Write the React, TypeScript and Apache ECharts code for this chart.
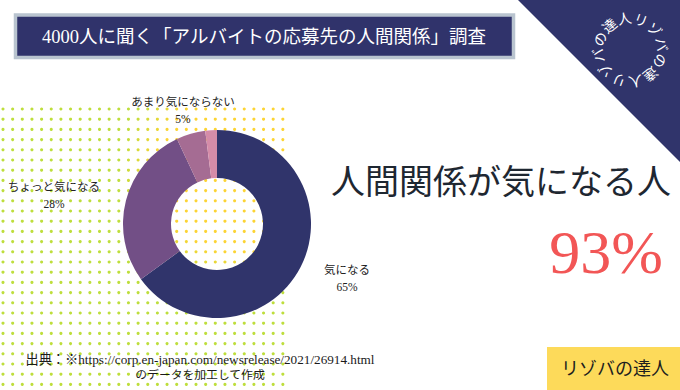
import React, { useEffect, useRef } from "react";
import * as echarts from "echarts";

const categories = ["気になる", "ちょっと気になる", "あまり気にならない", "気にならない"];
const values = [65, 28, 5, 2];
const sliceColors = ["#30346b", "#724f86", "#a56c93", "#d58ca8"];
const showLabel = [true, true, true, false];
const titleText = "4000人に聞く「アルバイトの応募先の人間関係」調査";
const headline = "人間関係が気になる人";
const bigValue = "93%";
const sourceLine1 = "出典：※https://corp.en-japan.com/newsrelease/2021/26914.html";
const sourceLine2 = "のデータを加工して作成";
const brand = "リゾバの達人";

const SERIF = '"Liberation Serif", "DejaVu Serif", "Noto Sans CJK JP", serif';
const labelPos: [number, number][] = [
  [347, 278],
  [54, 195],
  [183, 110],
  [0, 0],
];

function lerpColor(a: number[], b: number[], t: number) {
  const c = a.map((v, i) => Math.round(v + (b[i] - v) * t));
  return `rgb(${c[0]},${c[1]},${c[2]})`;
}

function buildDots() {
  const yellow = [252, 212, 52];
  const green = [190, 222, 60];
  const out: any[] = [];
  for (let y = 109; y <= 392; y += 10.2) {
    for (let x = 3; x <= 286; x += 9.65) {
      const d = Math.hypot(x - 238, y - 172);
      const t = Math.max(0, Math.min(1, (d - 80) / 40));
      out.push({
        type: "circle",
        silent: true,
        z: 0,
        shape: { cx: x, cy: y, r: 1.55 },
        style: { fill: lerpColor(yellow, green, t) },
      });
    }
  }
  return out;
}

function buildRing() {
  const chars = (brand + brand).split("");
  const cx = 630;
  const cy = 50;
  const r = 31;
  return chars.map((ch, i) => {
    const deg = 20 + i * 30;
    const th = ((deg % 360) * Math.PI) / 180;
    return {
      type: "text",
      silent: true,
      z: 5,
      x: cx + r * Math.sin(th),
      y: cy - r * Math.cos(th),
      rotation: -th,
      style: {
        text: ch,
        fill: "#ffffff",
        font: `14px ${SERIF}`,
        textAlign: "center",
        textVerticalAlign: "middle",
      },
    };
  });
}

export default function App() {
  const ref = useRef<HTMLDivElement>(null);
  useEffect(() => {
    if (!ref.current) return;
    const chart = echarts.init(ref.current, null, { renderer: "svg" });
    chart.setOption({
      animation: false,
      backgroundColor: "#ffffff",
      graphic: [
        ...buildDots(),
        {
          type: "polygon",
          silent: true,
          z: 1,
          shape: { points: [[518, 0], [680, 0], [680, 162]] },
          style: { fill: "#30346b" },
        },
        ...buildRing(),
        {
          type: "rect",
          z: 1,
          shape: { x: 15.5, y: 15, width: 498, height: 42.5 },
          style: { fill: "#30336b", stroke: "#b9c4cf", lineWidth: 3.5 },
        },
        {
          type: "text",
          z: 2,
          x: 264,
          y: 37,
          style: {
            text: titleText,
            fill: "#ffffff",
            font: `18.5px ${SERIF}`,
            textAlign: "center",
            textVerticalAlign: "middle",
          },
        },
        {
          type: "text",
          z: 2,
          x: 501,
          y: 182,
          style: {
            text: headline,
            fill: "#1e2731",
            font: `34px ${SERIF}`,
            textAlign: "center",
            textVerticalAlign: "middle",
          },
        },
        {
          type: "text",
          z: 2,
          x: 663,
          y: 252,
          style: {
            text: bigValue,
            fill: "#f25656",
            font: `62px ${SERIF}`,
            textAlign: "right",
            textVerticalAlign: "middle",
          },
        },
        {
          type: "text",
          z: 2,
          x: 200,
          y: 359,
          style: {
            text: sourceLine1,
            fill: "#1a1a1a",
            font: `13.2px ${SERIF}`,
            textAlign: "center",
            textVerticalAlign: "middle",
          },
        },
        {
          type: "text",
          z: 2,
          x: 200,
          y: 375,
          style: {
            text: sourceLine2,
            fill: "#1a1a1a",
            font: `11.8px ${SERIF}`,
            textAlign: "center",
            textVerticalAlign: "middle",
          },
        },
        {
          type: "rect",
          z: 1,
          shape: { x: 547, y: 347, width: 133, height: 43 },
          style: { fill: "#fdda5a" },
        },
        {
          type: "text",
          z: 2,
          x: 615,
          y: 369,
          style: {
            text: brand,
            fill: "#1e1e1e",
            font: `18px ${SERIF}`,
            textAlign: "center",
            textVerticalAlign: "middle",
          },
        },
      ],
      series: [
        {
          type: "pie",
          z: 3,
          center: [217, 224],
          radius: [46, 94],
          startAngle: 90,
          clockwise: true,
          avoidLabelOverlap: false,
          silent: true,
          labelLine: { show: false },
          label: {
            show: true,
            position: "outside",
            formatter: "{b}\n{d}%",
            fontFamily: SERIF,
            fontSize: 11.5,
            lineHeight: 17,
            color: "#222222",
            align: "center",
          },
          labelLayout: (p: any) => ({
            x: labelPos[p.dataIndex][0],
            y: labelPos[p.dataIndex][1],
            align: "center",
            verticalAlign: "middle",
          }),
          data: categories.map((name, i) => ({
            name,
            value: values[i],
            itemStyle: { color: sliceColors[i] },
            label: { show: showLabel[i] },
          })),
        },
      ],
    });
    return () => chart.dispose();
  }, []);
  return (
    <div
      ref={ref}
      style={{ position: "fixed", left: 0, top: 0, width: 680, height: 390 }}
    />
  );
}
